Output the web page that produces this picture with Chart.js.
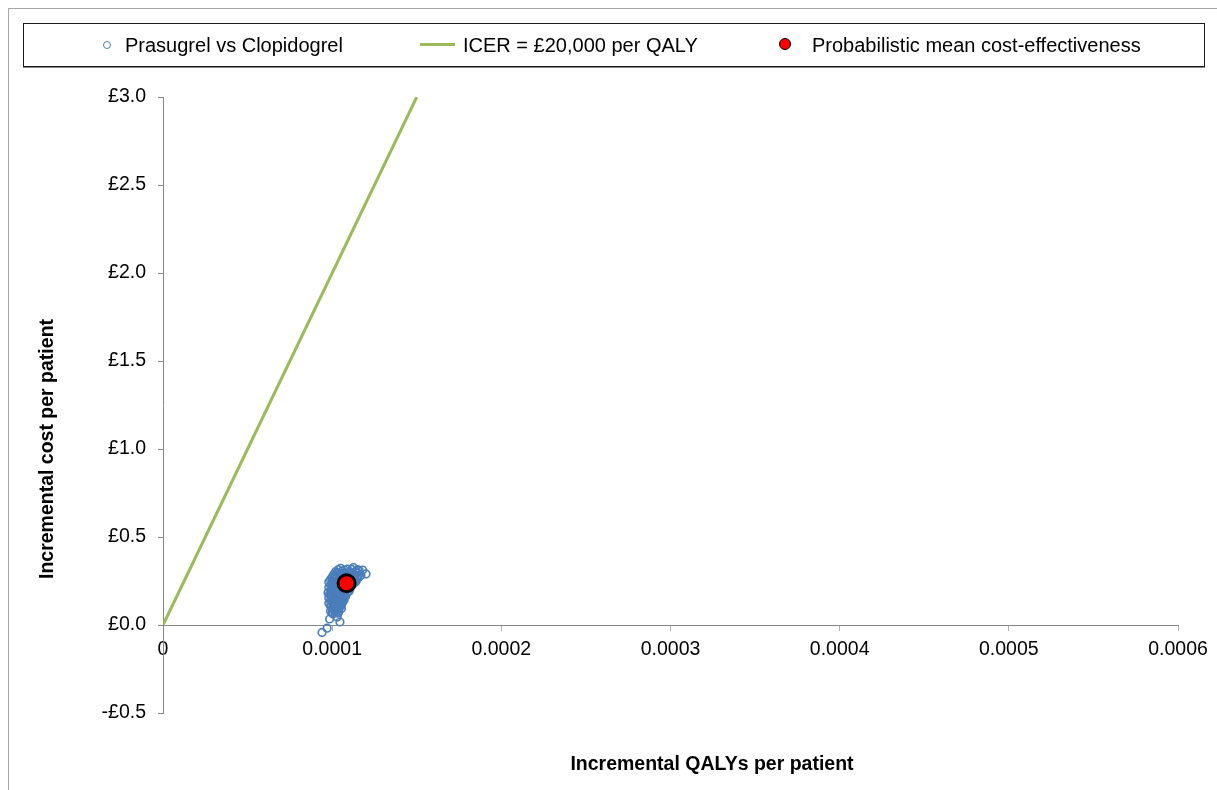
<!DOCTYPE html>
<html>
<head>
<meta charset="utf-8">
<script src="https://cdn.jsdelivr.net/npm/chart.js@4.4.1/dist/chart.umd.min.js"></script>
<style>
  html,body{margin:0;padding:0;background:#fff;}
  body{width:1217px;height:790px;position:relative;overflow:hidden;font-family:"Liberation Sans",Arial,sans-serif;}
  #frame{position:absolute;left:8px;top:8px;width:1220px;height:800px;border-left:1px solid #a6a6a6;border-top:1px solid #a6a6a6;}
  #wrap{position:absolute;left:0;top:0;width:1217px;height:790px;}
  #legend{position:absolute;left:23px;top:23px;width:1180px;height:42px;border:1px solid #1a1a1a;box-shadow:0 1px 0 #8a8a8a;background:#fff;}
  .item{position:absolute;top:0;height:42px;line-height:42px;font-size:20px;color:#000;white-space:nowrap;}
  .mk{position:absolute;}
</style>
</head>
<body>
<div id="frame"></div>
<div id="wrap"><canvas id="ceChart" width="1217" height="790"></canvas></div>
<div id="legend"></div>
<script>
// PSA scatter: incremental QALYs (x) vs incremental cost (y)
const incQaly=[
  1.05e-4,1.09e-4,1.125e-4,1.15e-4,
  1.035e-4,1.075e-4,1.115e-4,1.16e-4,
  1.02e-4,1.06e-4,1.10e-4,1.14e-4,1.18e-4,
  1.03e-4,1.07e-4,1.11e-4,1.15e-4,
  1.01e-4,1.045e-4,1.08e-4,1.12e-4,1.155e-4,1.20e-4,
  1.02e-4,1.06e-4,1.095e-4,1.13e-4,1.17e-4,
  1.00e-4,1.03e-4,1.07e-4,1.10e-4,1.135e-4,1.165e-4,
  1.01e-4,1.045e-4,1.08e-4,1.115e-4,1.15e-4,
  0.99e-4,1.02e-4,1.055e-4,1.09e-4,1.12e-4,1.15e-4,
  1.00e-4,1.035e-4,1.07e-4,1.105e-4,1.135e-4,
  0.98e-4,1.01e-4,1.04e-4,1.075e-4,1.11e-4,1.14e-4,
  1.00e-4,1.03e-4,1.065e-4,1.10e-4,1.13e-4,
  0.99e-4,1.02e-4,1.055e-4,1.085e-4,1.12e-4,
  1.00e-4,1.035e-4,1.07e-4,1.10e-4,
  0.98e-4,1.01e-4,1.04e-4,1.07e-4,1.10e-4,
  0.995e-4,1.03e-4,1.06e-4,1.09e-4,
  0.99e-4,1.02e-4,1.05e-4,1.08e-4,1.105e-4,
  0.99e-4,1.015e-4,1.045e-4,1.075e-4,1.10e-4,
  0.975e-4,1.00e-4,1.03e-4,1.06e-4,1.09e-4,
  0.985e-4,1.01e-4,1.04e-4,1.065e-4,
  0.99e-4,1.02e-4,1.05e-4,1.075e-4,
  0.995e-4,1.03e-4,1.06e-4,1.08e-4,
  0.98e-4,1.01e-4,1.04e-4,1.065e-4,
  0.995e-4,1.03e-4,1.055e-4,
  0.99e-4,1.02e-4,1.05e-4,1.07e-4,
  1.00e-4,1.035e-4,1.06e-4,
  0.98e-4,1.01e-4,1.035e-4,1.06e-4,
  0.995e-4,1.025e-4,1.055e-4,
  0.99e-4,1.02e-4,1.05e-4,
  1.01e-4,1.04e-4,
  1.00e-4,1.03e-4,1.055e-4,
  1.005e-4,1.035e-4,
  0.99e-4,1.015e-4,1.04e-4,
  1.00e-4,1.025e-4,
  1.005e-4,1.035e-4,
  1.03e-4,0.985e-4,1.046e-4,0.97e-4,0.94e-4
];
const incCost=[
  0.322,0.318,0.326,0.315,
  0.314,0.311,0.316,0.309,
  0.302,0.308,0.300,0.306,0.312,
  0.297,0.295,0.299,0.296,
  0.288,0.294,0.285,0.291,0.284,0.290,
  0.281,0.283,0.280,0.284,0.282,
  0.273,0.278,0.270,0.276,0.272,0.279,
  0.266,0.268,0.265,0.269,0.267,
  0.258,0.262,0.255,0.261,0.257,0.263,
  0.251,0.253,0.250,0.254,0.252,
  0.244,0.247,0.241,0.249,0.243,0.246,
  0.236,0.238,0.235,0.239,0.237,
  0.228,0.233,0.226,0.231,0.229,
  0.221,0.223,0.220,0.224,
  0.213,0.218,0.211,0.216,0.212,
  0.206,0.208,0.205,0.209,
  0.199,0.203,0.197,0.201,0.205,
  0.191,0.193,0.190,0.194,0.192,
  0.183,0.188,0.182,0.186,0.184,
  0.176,0.178,0.175,0.179,
  0.168,0.172,0.166,0.171,
  0.161,0.163,0.160,0.164,
  0.153,0.158,0.151,0.156,
  0.146,0.148,0.145,
  0.138,0.143,0.137,0.141,
  0.131,0.133,0.130,
  0.123,0.127,0.121,0.126,
  0.116,0.118,0.115,
  0.108,0.112,0.106,
  0.101,0.103,
  0.093,0.098,0.094,
  0.086,0.088,
  0.078,0.082,0.077,
  0.071,0.073,
  0.063,0.067,
  0.045,0.034,0.017,-0.018,-0.042
];
// willingness-to-pay line end points
const icerQaly=[0,0.00015];
const icerCost=[0,3.0];
// probabilistic mean
const meanQaly=[1.085e-4];
const meanCost=[0.237];

const seriesNames=["Prasugrel vs Clopidogrel","ICER = £20,000 per QALY","Probabilistic mean cost-effectiveness"];
const xTicks=[0,0.0001,0.0002,0.0003,0.0004,0.0005,0.0006];
const yTicks=[-0.5,0,0.5,1.0,1.5,2.0,2.5,3.0];

const toPts=(xs,ys)=>xs.map((x,i)=>({x,y:ys[i]}));
const FONT='"Liberation Sans", Arial, sans-serif';
const AXIS='#868686';

// axis titles drawn at fixed spots like the original sheet
const titlePlugin={
  id:'axisTitles',
  afterDraw(chart){
    const c=chart.ctx;
    c.save();
    c.fillStyle='#000';
    c.font='bold 19.5px '+FONT;
    c.textAlign='center'; c.textBaseline='middle';
    c.fillText('Incremental QALYs per patient',712,765);
    c.translate(48,449); c.rotate(-Math.PI/2);
    c.fillText('Incremental cost per patient',0,0);
    c.restore();
  }
};

const ctx=document.getElementById('ceChart').getContext('2d');
const chart=new Chart(ctx,{
  type:'scatter',
  data:{datasets:[
    {label:seriesNames[0],data:toPts(incQaly,incCost),order:1,
     pointRadius:3.8,pointBorderWidth:1.6,borderColor:'#4a7ebb',backgroundColor:'rgba(255,255,255,0)'},
    {label:seriesNames[1],data:toPts(icerQaly,icerCost),order:2,showLine:true,
     borderColor:'#9bbb59',borderWidth:3,pointRadius:0},
    {label:seriesNames[2],data:toPts(meanQaly,meanCost),order:0,
     pointRadius:8.5,pointBorderWidth:3,borderColor:'#000',backgroundColor:'#ff0000'}
  ]},
  options:{
    responsive:false,animation:false,events:[],
    layout:{padding:{left:83,top:97,right:39,bottom:77}},
    plugins:{legend:{display:false},tooltip:{enabled:false}},
    scales:{
      x:{type:'linear',position:{y:0},min:0,max:0.0006,
         afterBuildTicks:s=>{s.ticks=xTicks.map(v=>({value:v}));},
         grid:{display:true,drawOnChartArea:false,drawTicks:true,tickLength:5,color:'#b0b0b0'},
         border:{display:true,color:AXIS,width:1},
         ticks:{color:'#000',padding:8,font:{family:FONT,size:19.5},maxRotation:0,autoSkip:false,
                callback:v=>v===0?'0':v.toFixed(4)}},
      y:{type:'linear',position:'left',min:-0.5,max:3.0,
         afterFit:s=>{s.width=80;},
         afterBuildTicks:s=>{s.ticks=yTicks.map(v=>({value:v}));},
         grid:{display:true,drawOnChartArea:false,drawTicks:true,tickLength:5,color:AXIS},
         border:{display:true,color:AXIS,width:1},
         ticks:{color:'#000',padding:12,font:{family:FONT,size:19.5},autoSkip:false,
                callback:v=>(v<0?'-£':'£')+Math.abs(v).toFixed(1)}}
    }
  },
  plugins:[titlePlugin]
});

// legend row built from the datasets
const legend=document.getElementById('legend');
const ds=chart.data.datasets;
const items=[
  {left:79,mark:`<span class="mk" style="left:0;top:17px;width:6px;height:6px;border:1px solid ${ds[0].borderColor};border-radius:50%"></span>`,text:101},
  {left:396,mark:`<span class="mk" style="left:0;top:19px;width:35px;height:3px;background:${ds[1].borderColor}"></span>`,text:439},
  {left:755,mark:`<span class="mk" style="left:0;top:14px;width:10px;height:10px;border:1.5px solid #000;background:${ds[2].backgroundColor};border-radius:50%"></span>`,text:788}
];
items.forEach((it,i)=>{
  const m=document.createElement('div'); m.className='item'; m.style.left=it.left+'px'; m.innerHTML=it.mark; legend.appendChild(m);
  const t=document.createElement('div'); t.className='item'; t.style.left=it.text+'px'; t.textContent=seriesNames[i]; legend.appendChild(t);
});
</script>
</body>
</html>
